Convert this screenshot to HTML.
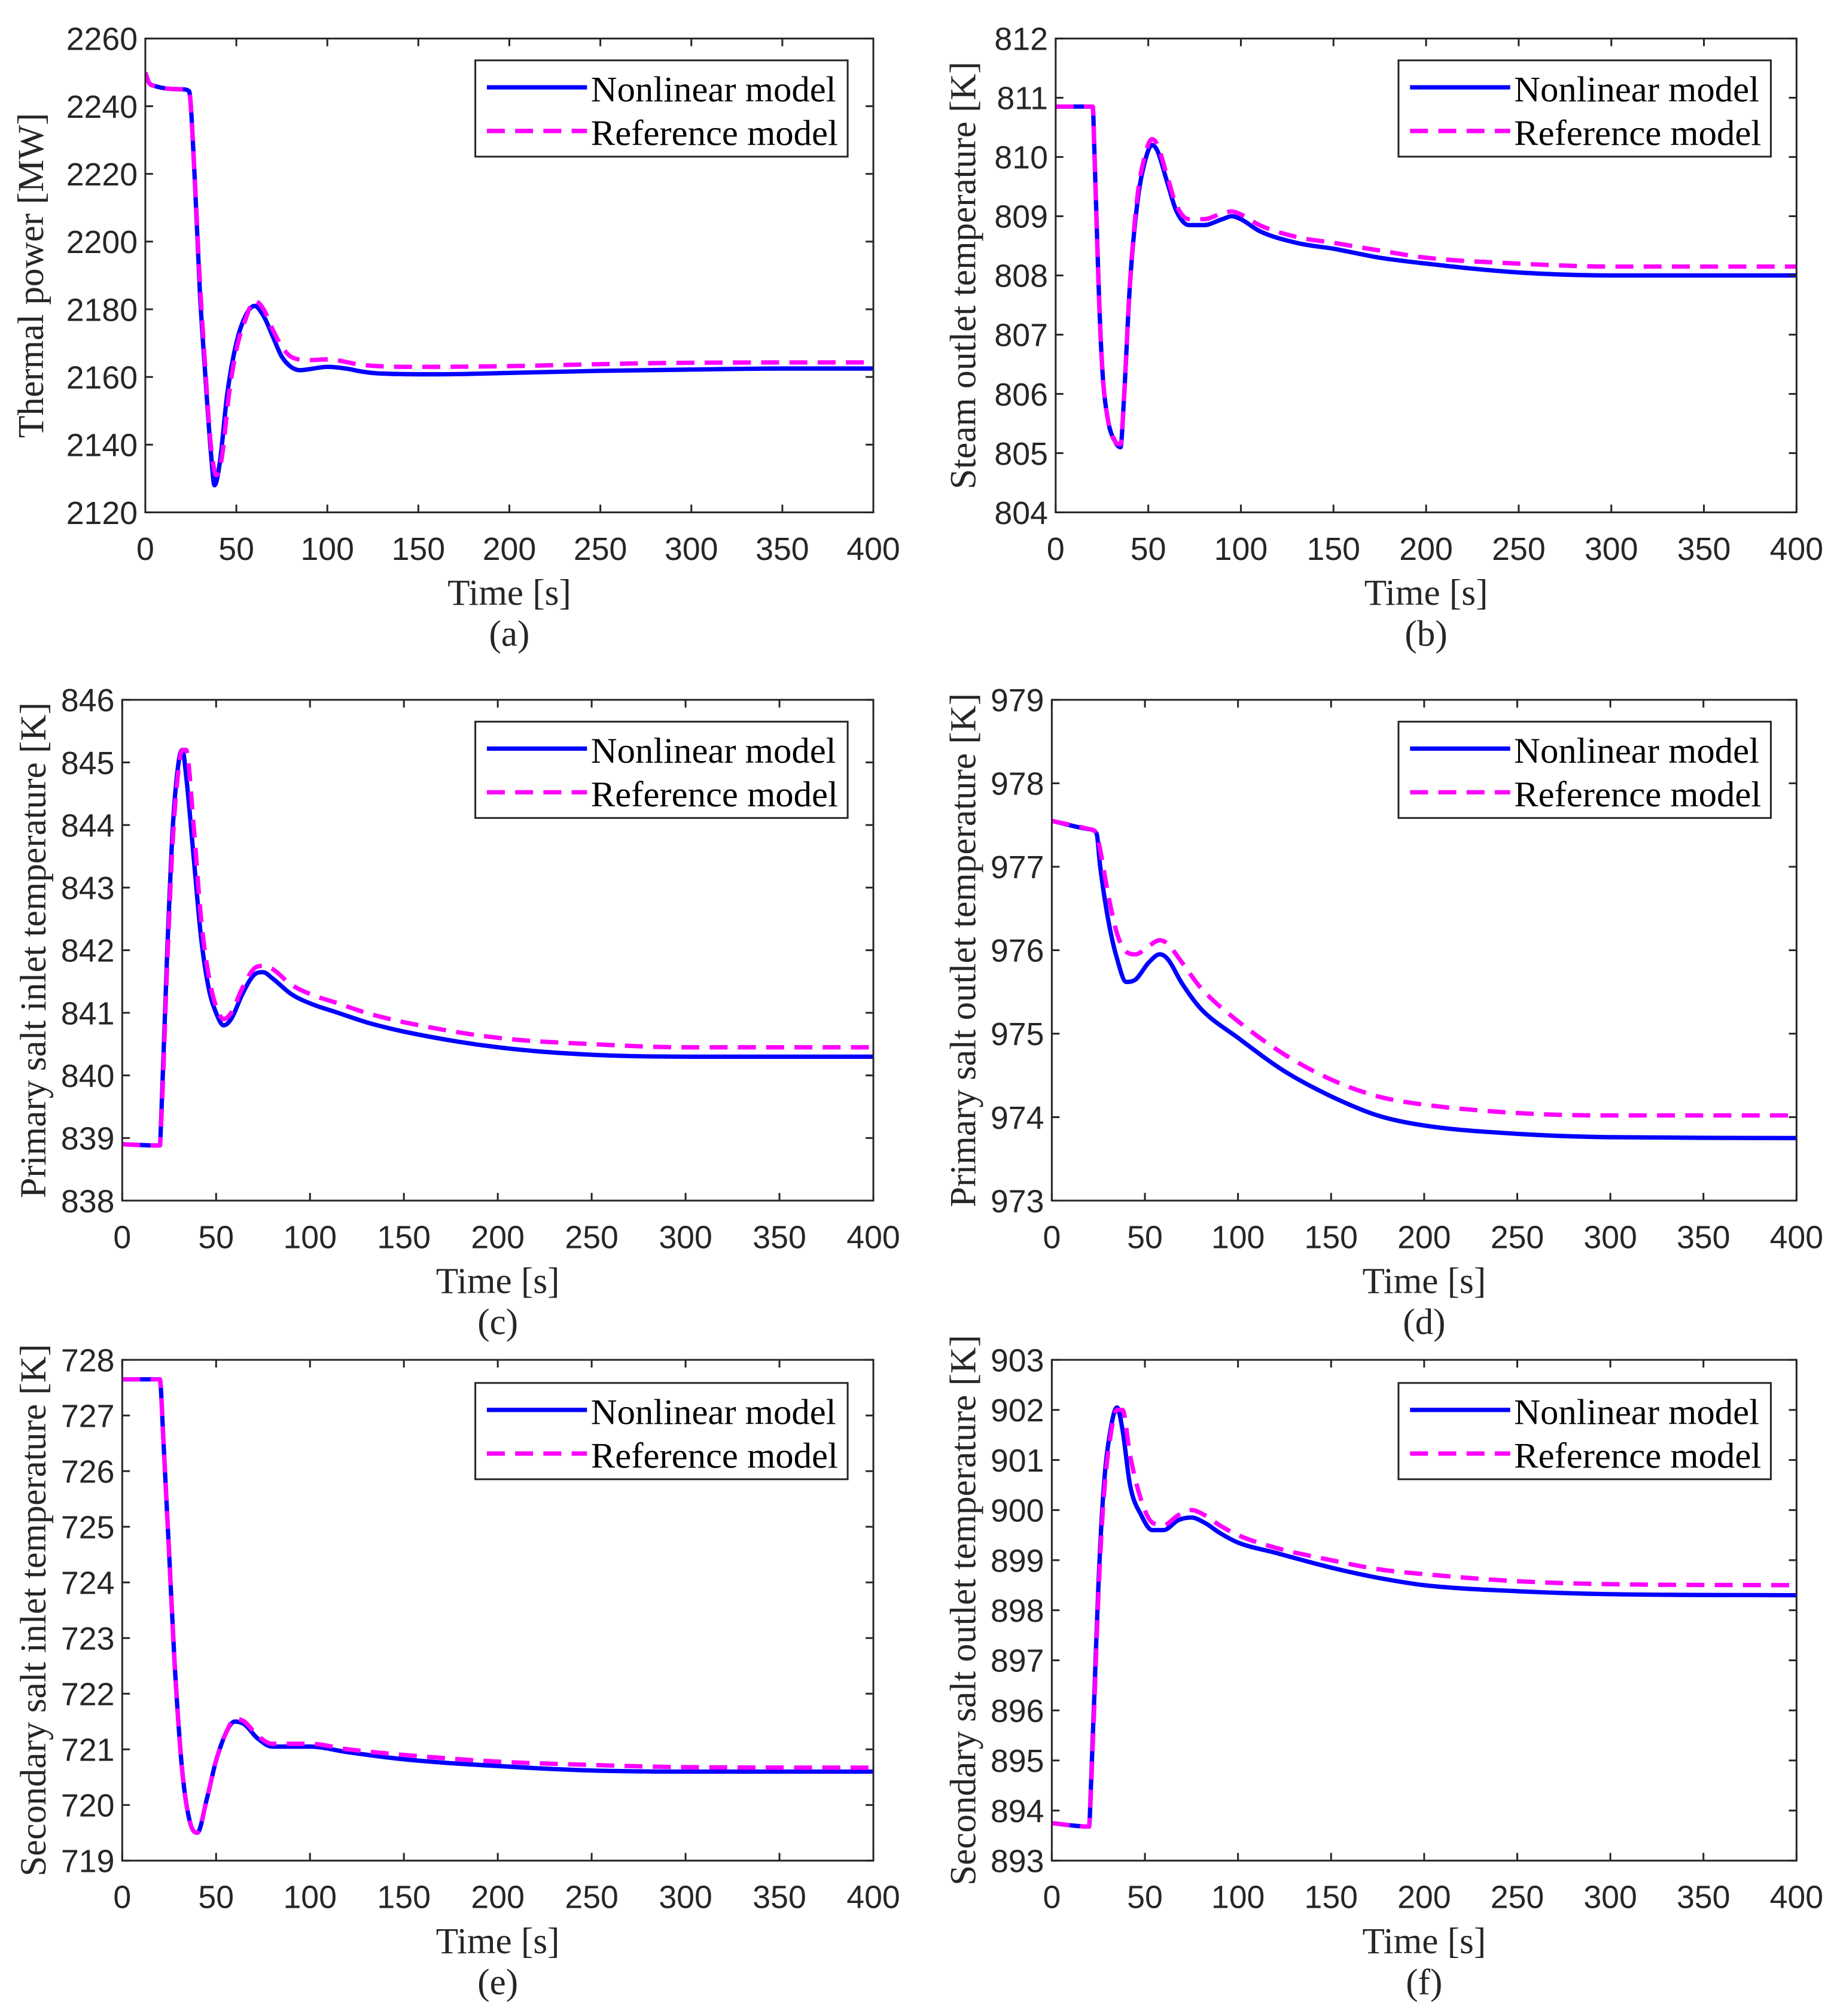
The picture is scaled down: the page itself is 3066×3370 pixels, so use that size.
<!DOCTYPE html>
<html><head><meta charset="utf-8"><style>
html,body{margin:0;padding:0;background:#fff}
svg{display:block}
.tk{font-family:"Liberation Sans",sans-serif;font-size:25px;fill:#262626}
.ti{font-family:"Liberation Serif",serif;font-size:28.5px;fill:#262626}
.lg{font-family:"Liberation Serif",serif;font-size:28.3px;fill:#000}
</style></head><body>
<svg id="fig" width="3066" height="3370" viewBox="0 0 1428 1570" xmlns="http://www.w3.org/2000/svg"></svg>
<script>
const xTicks=[0,50,100,150,200,250,300,350,400];
const tA=[0,2,5,20,24,27,30,33,36,38,41,45,50,55,60,65,70,75,80,85,90,100,110,120,130,160,200,250,300,350,400];
const nlA=[2250,2247,2246,2245,2244.5,2220,2185,2160,2138,2128,2135,2155,2170,2178,2181,2178,2172,2166,2163,2162,2162.3,2163,2162.5,2161.5,2161,2160.8,2161.2,2161.8,2162.2,2162.5,2162.5];
const tAr=[0,2,5,20,24,27,30,33,36,39,42,46,50,55,60,65,70,75,80,90,100,120,150,200,250,300,400];
const refA=[2250,2247,2246,2245,2244.5,2220,2188,2162,2140,2131,2136,2155,2168,2177,2182.5,2180,2174,2169,2166,2165,2165.2,2163.5,2163,2163.2,2163.8,2164.2,2164.3];
const tB=[0,20,21,23,25,28,32,35,37,40,44,48,52,55,60,65,72,80,90,95,100,110,130,150,175,200,250,300,400];
const nlB=[810.85,810.85,810,808,806.5,805.6,805.2,805.1,806,807.8,809.2,809.9,810.2,810.1,809.6,809.1,808.85,808.85,808.95,809,808.95,808.75,808.55,808.45,808.3,808.2,808.05,808.0,808.0];
const refB=[810.85,810.85,810,808,806.5,805.6,805.2,805.15,806,807.8,809.3,810,810.3,810.2,809.7,809.2,808.95,808.95,809.05,809.08,809.03,808.85,808.65,808.55,808.42,808.3,808.2,808.15,808.15];
const tC=[0,20,21,24,27,30,32,34,38,42,46,50,54,58,64,70,75,80,90,100,115,130,150,200,250,300,400];
const nlC=[838.9,838.88,839.5,842,844,845,845.2,844.8,843.5,842.2,841.4,841,840.8,840.9,841.3,841.6,841.65,841.55,841.3,841.15,841.0,840.85,840.7,840.45,840.33,840.3,840.3];
const refC=[838.9,838.88,839.4,841.8,843.8,844.9,845.2,845.2,844,842.5,841.6,841.1,840.9,841.0,841.4,841.7,841.75,841.7,841.45,841.3,841.15,841.0,840.85,840.6,840.5,840.45,840.45];
const tD=[0,20,24,26,30,35,40,45,52,58,62,70,80,100,125,150,175,200,250,300,400];
const nlD=[977.55,977.45,977.4,977.0,976.4,975.9,975.62,975.65,975.85,975.95,975.9,975.6,975.3,974.95,974.55,974.25,974.02,973.9,973.8,973.76,973.75];
const refD=[977.55,977.45,977.4,977.2,976.7,976.2,975.98,975.95,976.05,976.12,976.08,975.85,975.55,975.15,974.75,974.45,974.25,974.15,974.05,974.02,974.02];
const tE=[0,20,22,25,28,32,36,40,45,50,56,60,65,72,80,90,100,120,150,200,250,300,400];
const nlE=[727.65,727.65,726.5,724.5,722.5,720.6,719.7,719.5,720.1,720.8,721.35,721.5,721.45,721.2,721.05,721.05,721.05,720.95,720.82,720.7,720.62,720.6,720.6];
const refE=[727.65,727.65,726.5,724.5,722.5,720.6,719.7,719.5,720.1,720.8,721.35,721.55,721.5,721.25,721.1,721.1,721.1,721.0,720.9,720.78,720.72,720.68,720.67];
const tF=[0,20,21,23,25,28,32,35,38,42,48,54,60,68,75,82,90,100,120,150,175,200,250,300,400];
const nlF=[893.75,893.68,894.5,896.5,898.5,900.5,901.7,902.05,901.6,900.5,899.9,899.6,899.6,899.8,899.85,899.75,899.55,899.35,899.15,898.85,898.65,898.5,898.38,898.32,898.3];
const refF=[893.75,893.68,894.4,896.3,898.3,900.3,901.6,902.0,902.0,901.1,900.2,899.75,899.7,899.9,900.0,899.9,899.7,899.5,899.25,899.0,898.82,898.72,898.58,898.52,898.5];

const panels=[
 {id:'a',L:113,R:680,T:30,B:399,y0:2120,y1:2260,yt:[2120,2140,2160,2180,2200,2220,2240,2260],yl:'Thermal power [MW]',ylx:24,lg:[370,47],t:tA,nl:nlA,tr:tAr,rf:refA},
 {id:'b',L:822,R:1399,T:30,B:399,y0:804,y1:812,yt:[804,805,806,807,808,809,810,811,812],yl:'Steam outlet temperature [K]',ylx:750,lg:[1089,47],t:tB,nl:nlB,tr:tB,rf:refB},
 {id:'c',L:95,R:680,T:545,B:935,y0:838,y1:846,yt:[838,839,840,841,842,843,844,845,846],yl:'Primary salt inlet  temperature [K]',ylx:26,lg:[370,562],t:tC,nl:nlC,tr:tC,rf:refC},
 {id:'d',L:819,R:1399,T:545,B:935,y0:973,y1:979,yt:[973,974,975,976,977,978,979],yl:'Primary salt outlet temperature [K]',ylx:750,lg:[1089,562],t:tD,nl:nlD,tr:tD,rf:refD},
 {id:'e',L:95,R:680,T:1059,B:1449,y0:719,y1:728,yt:[719,720,721,722,723,724,725,726,727,728],yl:'Secondary salt inlet temperature [K]',ylx:26,lg:[370,1077],t:tE,nl:nlE,tr:tE,rf:refE},
 {id:'f',L:819,R:1399,T:1059,B:1449,y0:893,y1:903,yt:[893,894,895,896,897,898,899,900,901,902,903],yl:'Secondary salt outlet temperature [K]',ylx:750,lg:[1089,1077],t:tF,nl:nlF,tr:tF,rf:refF}
];
const NS='http://www.w3.org/2000/svg';
const svg=document.getElementById('fig');
function mk(tag,attrs,parent){const e=document.createElementNS(NS,tag);for(const k in attrs)e.setAttribute(k,attrs[k]);(parent||svg).appendChild(e);return e;}
// monotone cubic (Fritsch-Carlson) path through points with increasing x
function smooth(P){
 const n=P.length,d=[],m=[];
 for(let i=0;i<n-1;i++)d.push((P[i+1][1]-P[i][1])/(P[i+1][0]-P[i][0]));
 m[0]=d[0];m[n-1]=d[n-2];
 for(let i=1;i<n-1;i++){m[i]=(d[i-1]*d[i]<=0)?0:(d[i-1]+d[i])/2;}
 for(let i=0;i<n-1;i++){
  if(d[i]===0){m[i]=0;m[i+1]=0;continue;}
  const a=m[i]/d[i],b=m[i+1]/d[i],s=a*a+b*b;
  if(s>9){const t=3/Math.sqrt(s);m[i]=t*a*d[i];m[i+1]=t*b*d[i];}
 }
 let s='M'+P[0][0].toFixed(1)+','+P[0][1].toFixed(1);
 for(let i=0;i<n-1;i++){
  const h=(P[i+1][0]-P[i][0])/3;
  s+=' C'+(P[i][0]+h).toFixed(1)+','+(P[i][1]+m[i]*h).toFixed(1)+' '+(P[i+1][0]-h).toFixed(1)+','+(P[i+1][1]-m[i+1]*h).toFixed(1)+' '+P[i+1][0].toFixed(1)+','+P[i+1][1].toFixed(1);
 }
 return s;
}
panels.forEach(p=>{
 const g=mk('g',{});
 
 
 const xs=v=>p.L+(v-0)/400*(p.R-p.L);
 const ys=v=>p.B-(v-p.y0)/(p.y1-p.y0)*(p.B-p.T);
 const pts=(t,v)=>t.map((x,i)=>[xs(x),ys(v[i])]);
 const clip=mk('clipPath',{id:'cl'+p.id},g);mk('rect',{x:p.L,y:p.T,width:p.R-p.L,height:p.B-p.T},clip);
 const l1=mk('path',{d:smooth(pts(p.t,p.nl)),fill:'none',stroke:'#0000ff','stroke-width':3.4,'stroke-linejoin':'round','clip-path':'url(#cl'+p.id+')'},g);
 
 
 const l2=mk('path',{d:smooth(pts(p.tr,p.rf)),fill:'none',stroke:'#ff00ff','stroke-width':3.4,'stroke-dasharray':'14 8','stroke-linejoin':'round','clip-path':'url(#cl'+p.id+')'},g);
 
 
 const fr=mk('rect',{x:p.L,y:p.T,width:p.R-p.L,height:p.B-p.T,fill:'none',stroke:'#262626','stroke-width':1.4},g);
 
 
 xTicks.forEach(v=>{const x=xs(v);
  mk('line',{x1:x,x2:x,y1:p.B,y2:p.B-6,stroke:'#262626','stroke-width':1.4},g);
  mk('line',{x1:x,x2:x,y1:p.T,y2:p.T+6,stroke:'#262626','stroke-width':1.4},g);
  const t=mk('text',{x:x,y:p.B+37,'text-anchor':'middle',class:'tk'},g);t.textContent=v;
  
  
 });
 p.yt.forEach(v=>{const y=ys(v);
  mk('line',{x1:p.L,x2:p.L+6,y1:y,y2:y,stroke:'#262626','stroke-width':1.4},g);
  mk('line',{x1:p.R,x2:p.R-6,y1:y,y2:y,stroke:'#262626','stroke-width':1.4},g);
  const t=mk('text',{x:p.L-6,y:y+9,'text-anchor':'end',class:'tk'},g);t.textContent=v;
  
  
 });
 const xt=mk('text',{x:(p.L+p.R)/2,y:p.B+72,'text-anchor':'middle',class:'ti'},g);xt.textContent='Time [s]';
 
 
 const cap=mk('text',{x:(p.L+p.R)/2,y:p.B+104,'text-anchor':'middle',class:'ti'},g);cap.textContent='('+p.id+')';
 
 
 const cy=(p.T+p.B)/2;
 const yt=mk('text',{x:p.ylx,y:cy,'text-anchor':'middle',class:'ti',transform:'rotate(-90 '+p.ylx+' '+cy+')','dominant-baseline':'central'},g);yt.textContent=p.yl;
 
 
 const [lx,ly]=p.lg;
 const lg=mk('g',{},g);
 
 
 mk('rect',{x:lx,y:ly,width:290,height:75,fill:'#fff',stroke:'#262626','stroke-width':1.4},lg);
 mk('line',{x1:lx+9,x2:lx+87,y1:ly+21,y2:ly+21,stroke:'#0000ff','stroke-width':3.4},lg);
 mk('line',{x1:lx+9,x2:lx+87,y1:ly+55,y2:ly+55,stroke:'#ff00ff','stroke-width':3.4,'stroke-dasharray':'14 8'},lg);
 const a=mk('text',{x:lx+90,y:ly+32,class:'lg'},lg);a.textContent='Nonlinear model';
 
 
 const b=mk('text',{x:lx+90,y:ly+66,class:'lg'},lg);b.textContent='Reference model';
 
 
});
</script>
</body></html>
